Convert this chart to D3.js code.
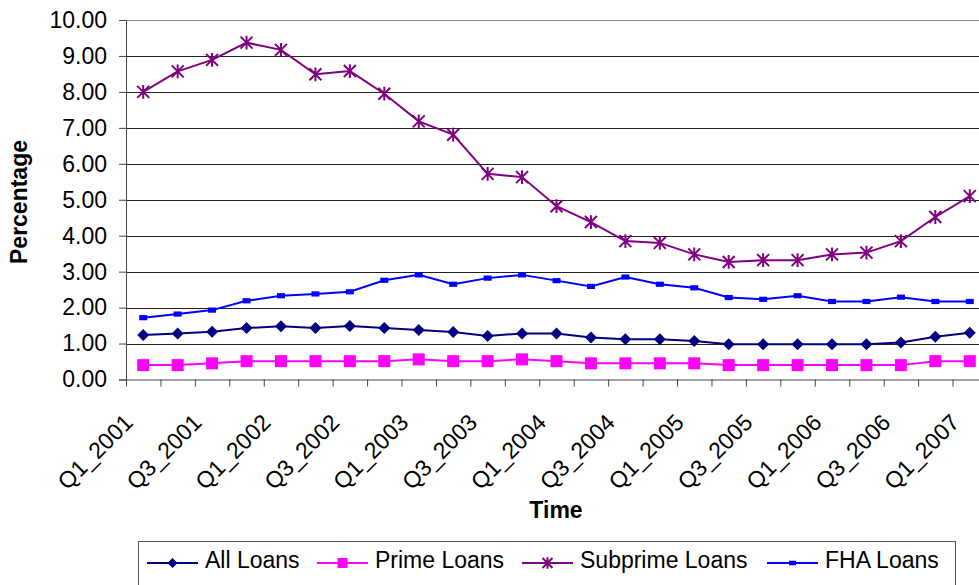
<!DOCTYPE html>
<html>
<head>
<meta charset="utf-8">
<script src="https://cdn.jsdelivr.net/npm/d3@7"></script>
<style>
  body { margin: 0; background: #fff; }
  svg { display: block; font-family: "Liberation Sans", Arial, sans-serif; }
</style>
</head>
<body>
<div id="chart"></div>
<script>
// quarters on the x axis
const quarters = ["Q1_2001","Q2_2001","Q3_2001","Q4_2001","Q1_2002","Q2_2002","Q3_2002","Q4_2002",
  "Q1_2003","Q2_2003","Q3_2003","Q4_2003","Q1_2004","Q2_2004","Q3_2004","Q4_2004",
  "Q1_2005","Q2_2005","Q3_2005","Q4_2005","Q1_2006","Q2_2006","Q3_2006","Q4_2006","Q1_2007"];

// series values (percentage)
const allLoans = [1.24,1.28,1.33,1.43,1.48,1.43,1.49,1.43,1.38,1.32,1.21,1.28,1.28,1.17,1.12,1.12,1.07,0.98,0.98,0.98,0.98,0.98,1.03,1.19,1.30];
const primeLoans = [0.40,0.40,0.45,0.51,0.51,0.51,0.51,0.51,0.56,0.51,0.51,0.56,0.51,0.45,0.45,0.45,0.45,0.40,0.40,0.40,0.40,0.40,0.40,0.51,0.51];
const subprimeLoans = [8.00,8.57,8.89,9.37,9.17,8.49,8.58,7.95,7.18,6.81,5.72,5.63,4.82,4.38,3.85,3.80,3.48,3.27,3.32,3.32,3.48,3.53,3.85,4.52,5.10];
const fhaLoans = [1.72,1.82,1.93,2.19,2.33,2.38,2.44,2.76,2.91,2.65,2.82,2.91,2.75,2.59,2.85,2.65,2.55,2.28,2.23,2.33,2.17,2.17,2.29,2.17,2.17];

const yTicks = [0,1,2,3,4,5,6,7,8,9,10];

const width = 979, height = 585;
const plotLeft = 126, plotRight = 987, plotTop = 20, plotBottom = 379.5;

const svg = d3.select("#chart").append("svg")
  .attr("width", width)
  .attr("height", height);

svg.append("rect").attr("width", width).attr("height", height).attr("fill", "#fff");

const x = d3.scaleBand().domain(quarters).range([plotLeft, plotRight]).padding(0);
const cx = d => x(d) + x.bandwidth() / 2;
const xb = d3.scaleLinear().domain([0, quarters.length]).range([plotLeft, plotRight]);
const y = d3.scaleLinear().domain([0, 10]).range([plotBottom, plotTop]);

// gridlines
svg.append("g")
  .selectAll("line")
  .data(yTicks.filter(d => d > 0))
  .join("line")
    .attr("x1", plotLeft).attr("x2", plotRight)
    .attr("y1", d => Math.round(y(d)) + 0.5)
    .attr("y2", d => Math.round(y(d)) + 0.5)
    .attr("stroke", d => d === 10 ? "#888" : "#222")
    .attr("stroke-width", 1);

// y axis
const yAxis = svg.append("g")
  .attr("transform", `translate(${plotLeft},0)`)
  .call(d3.axisLeft(y).tickValues(yTicks).tickFormat(d3.format(".2f")).tickSize(7).tickPadding(12));
yAxis.select(".domain").attr("stroke", "#444");
yAxis.selectAll(".tick line").attr("stroke", "#444");
yAxis.selectAll("text").attr("font-size", 23).attr("fill", "#000").attr("font-family", "Liberation Sans, Arial, sans-serif");

// x axis with ticks at category boundaries
const xAxis = svg.append("g")
  .attr("transform", `translate(0,${plotBottom})`)
  .call(d3.axisBottom(xb).tickValues(d3.range(quarters.length + 1)).tickFormat("").tickSize(7).tickSizeOuter(0));
xAxis.select(".domain").attr("stroke", "#444");
xAxis.selectAll(".tick line").attr("stroke", "#444");

// rotated category labels, every other quarter
svg.append("g")
  .selectAll("text")
  .data(quarters.filter((d, i) => i % 2 === 0))
  .join("text")
    .attr("transform", d => `translate(${cx(d) - 9},424) rotate(-45)`)
    .attr("text-anchor", "end")
    .attr("font-size", 23)
    .attr("fill", "#000")
    .text(d => d);

// axis titles
svg.append("text")
  .attr("transform", "translate(27,202) rotate(-90)")
  .attr("text-anchor", "middle")
  .attr("font-size", 23)
  .attr("font-weight", "bold")
  .text("Percentage");

svg.append("text")
  .attr("x", 556).attr("y", 518)
  .attr("text-anchor", "middle")
  .attr("font-size", 23)
  .attr("font-weight", "bold")
  .text("Time");

// marker shapes
function drawMarker(g, type, color, s) {
  if (type === "diamond") {
    g.append("path").attr("d", `M0,${-s}L${s},0L0,${s}L${-s},0Z`).attr("fill", color);
  } else if (type === "square") {
    g.append("rect").attr("x", -s).attr("y", -s).attr("width", 2 * s).attr("height", 2 * s).attr("fill", color);
  } else if (type === "star") {
    g.append("path")
      .attr("d", `M${-s},${-s}L${s},${s}M${-s},${s}L${s},${-s}M0,${-s * 1.15}L0,${s * 1.15}`)
      .attr("stroke", color).attr("stroke-width", 2).attr("fill", "none");
  } else if (type === "rect") {
    g.append("rect").attr("x", -s).attr("y", -s * 0.65).attr("width", 2 * s).attr("height", 1.3 * s).attr("fill", color);
  }
}

const series = [
  {name: "All Loans", values: allLoans, color: "#000080", marker: "diamond", size: 6, lsize: 5},
  {name: "Prime Loans", values: primeLoans, color: "#FF00FF", marker: "square", size: 6, lsize: 5},
  {name: "Subprime Loans", values: subprimeLoans, color: "#800080", marker: "star", size: 6, lsize: 5},
  {name: "FHA Loans", values: fhaLoans, color: "#0000FF", marker: "rect", size: 4, lsize: 3.5}
];

const line = d3.line().x(d => cx(d.q)).y(d => y(d.v));

series.forEach(s => {
  const pts = quarters.map((q, i) => ({q: q, v: s.values[i]}));
  svg.append("path")
    .datum(pts)
    .attr("d", line)
    .attr("fill", "none")
    .attr("stroke", s.color)
    .attr("stroke-width", 2);
  svg.append("g")
    .selectAll("g")
    .data(pts)
    .join("g")
      .attr("transform", d => `translate(${cx(d.q)},${y(d.v)})`)
      .each(function() { drawMarker(d3.select(this), s.marker, s.color, s.size); });
});

// legend
const legend = svg.append("g");
legend.append("rect")
  .attr("x", 138.5).attr("y", 541.5)
  .attr("width", 817).attr("height", 60)
  .attr("fill", "#fff").attr("stroke", "#555").attr("stroke-width", 1);

const legendX = [147, 317, 522, 767];
series.forEach((s, i) => {
  const g = legend.append("g").attr("transform", `translate(${legendX[i]},563)`);
  g.append("line").attr("x1", 0).attr("x2", 51).attr("stroke", s.color).attr("stroke-width", 2);
  drawMarker(g.append("g").attr("transform", "translate(25.5,0)"), s.marker, s.color, s.lsize);
  g.append("text")
    .attr("x", 58).attr("y", 5)
    .attr("font-size", 23)
    .attr("fill", "#000")
    .text(s.name);
});
</script>
</body>
</html>
